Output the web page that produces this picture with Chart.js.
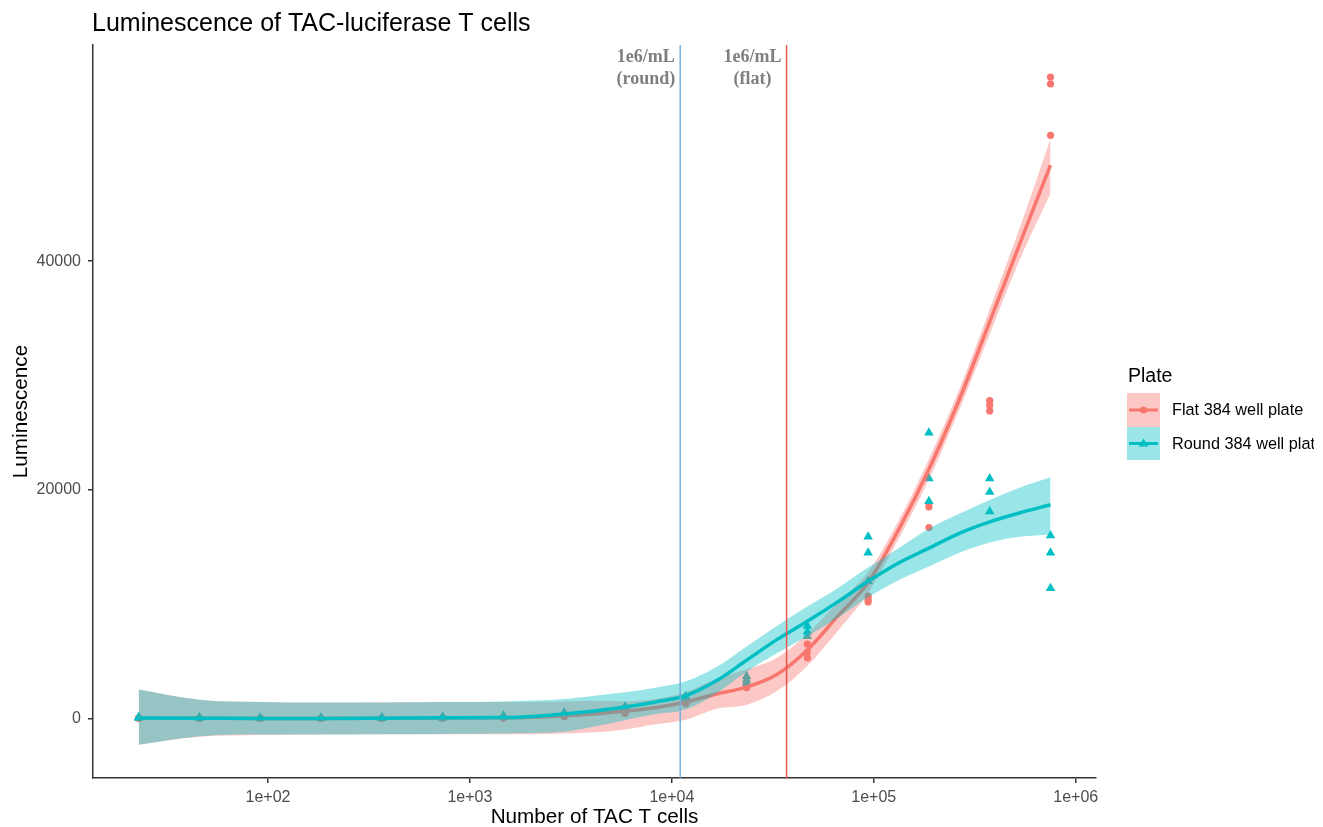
<!DOCTYPE html>
<html>
<head>
<meta charset="utf-8">
<script src="https://cdn.jsdelivr.net/npm/chart.js@4.4.1/dist/chart.umd.min.js"></script>
<style>
html,body{margin:0;padding:0;background:#fff;}
canvas{display:block;}
</style>
</head>
<body>
<canvas id="c" width="1323" height="827"></canvas>
<script>
// ---- data ----
const cellCounts = [22.9, 45.8, 91.6, 183.1, 366.2, 732.4, 1464.8, 2929.7, 5859.4, 11718.8, 23437.5, 46875, 93750, 187500, 375000, 750000];
const flatRep1  = [60, 40, 30, 20, 30, 50, 80, 250, 600, 1500, 3100, 6500, 10700, 18800, 27800, 56100];
const flatRep2  = [40, 20, 10, 10, 20, 40, 60, 200, 500, 1400, 2900, 5800, 10400, 18500, 27400, 55500];
const flatRep3  = [20, 10, 0, 0, 10, 30, 50, 150, 450, 1300, 2700, 5300, 10200, 16700, 26900, 51000];
const roundRep1 = [120, 80, 60, 60, 90, 130, 260, 500, 1050, 1950, 3700, 8100, 15900, 25000, 21000, 16000];
const roundRep2 = [80, 60, 40, 40, 60, 100, 220, 450, 950, 1800, 3400, 7600, 14500, 21000, 19800, 14500];
const roundRep3 = [40, 30, 20, 20, 40, 70, 180, 400, 850, 1650, 3100, 7200, 12000, 19000, 18100, 11400];

// loess fits and confidence bands
const fitX     = [22.9, 45.8, 91.6, 183, 366, 732, 1465, 2930, 4140, 5859, 8290, 11719, 16600, 23437, 33100, 46875, 66300, 93750, 132600, 187500, 265200, 375000, 530300, 750000];
const roundFit = [50, 30, 10, 0, 20, 60, 80, 400, 650, 1000, 1450, 2000, 3300, 5100, 6900, 8500, 10200, 12000, 13600, 14900, 16200, 17200, 18000, 18700];
const roundLo  = [-2300, -1550, -1400, -1400, -1380, -1350, -1300, -1150, -700, -150, 400, 800, 2200, 4100, 5700, 7200, 8800, 10600, 12100, 13300, 14500, 15400, 15900, 16100];
const roundHi  = [2550, 1650, 1450, 1400, 1400, 1450, 1500, 1700, 2000, 2300, 2700, 3250, 4500, 6300, 8100, 9800, 11400, 13200, 14900, 16600, 17900, 19100, 20200, 21100];
const flatFit  = [50, 30, 10, 0, 20, 50, 60, 250, 400, 650, 950, 1450, 2150, 2750, 3850, 6000, 8950, 11900, 16500, 21800, 27900, 34700, 41600, 48400];
const flatLo   = [-2300, -1600, -1450, -1400, -1380, -1380, -1380, -1300, -1200, -950, -500, -100, 850, 1200, 2400, 4600, 7650, 11000, 15700, 20900, 27000, 33600, 40200, 45900];
const flatHi   = [2550, 1650, 1450, 1400, 1420, 1450, 1450, 1500, 1550, 1500, 1700, 2300, 3450, 4300, 5300, 7400, 10150, 12800, 17300, 22700, 28800, 35800, 43000, 50700];

// reference lines (1e6/mL densities)
const vlineRound = 11000;
const vlineFlat = 37000;

// axes
const xMin = 13.6, xMax = 1260000;
const yMin = -5200, yMax = 58900;
const xTickValues = [1e2, 1e3, 1e4, 1e5, 1e6];
const yTickValues = [0, 20000, 40000];

const seriesNames = ['Flat 384 well plate', 'Round 384 well plate'];
const RED = '#F8766D', TEAL = '#00BFC4';

const pts = (xs, ys) => xs.map((x, i) => ({x, y: ys[i]}));
const reps = (xs, arrs) => arrs.flatMap(a => pts(xs, a));

const hidden = {borderWidth: 0, pointRadius: 0, showLine: true};

const datasets = [
  {data: [{x: vlineFlat, y: yMin}, {x: vlineFlat, y: yMax}], borderColor: '#E8574C', borderWidth: 1.5, pointRadius: 0},
  {data: [{x: vlineRound, y: yMin}, {x: vlineRound, y: yMax}], borderColor: '#74B0DA', borderWidth: 1.5, pointRadius: 0},
  {data: pts(fitX, roundFit), borderColor: TEAL, borderWidth: 3.5, pointRadius: 0, cubicInterpolationMode: 'monotone'},
  Object.assign({data: pts(fitX, roundHi), fill: '+1', backgroundColor: 'rgba(0,191,196,0.4)', cubicInterpolationMode: 'monotone'}, hidden),
  Object.assign({data: pts(fitX, roundLo), fill: false, cubicInterpolationMode: 'monotone'}, hidden),
  {data: pts(fitX, flatFit), borderColor: RED, borderWidth: 3.5, pointRadius: 0, cubicInterpolationMode: 'monotone'},
  Object.assign({data: pts(fitX, flatHi), fill: '+1', backgroundColor: 'rgba(248,118,109,0.4)', cubicInterpolationMode: 'monotone'}, hidden),
  Object.assign({data: pts(fitX, flatLo), fill: false, cubicInterpolationMode: 'monotone'}, hidden),
  {data: reps(cellCounts, [roundRep1, roundRep2, roundRep3]), showLine: false, pointStyle: 'triangle', pointRadius: 5.5, pointBackgroundColor: TEAL, pointBorderWidth: 0, borderColor: TEAL},
  {data: reps(cellCounts, [flatRep1, flatRep2, flatRep3]), showLine: false, pointStyle: 'circle', pointRadius: 3.6, pointBackgroundColor: RED, pointBorderWidth: 0, borderColor: RED}
];

const SANS = '"Liberation Sans", Arial, Helvetica, sans-serif';
const SERIF = '"Liberation Serif", "Times New Roman", serif';

const decor = {
  id: 'decor',
  afterDraw(chart) {
    const ctx = chart.ctx, a = chart.chartArea, xs = chart.scales.x;
    ctx.save();
    // title
    ctx.fillStyle = '#000';
    ctx.font = '25px ' + SANS;
    ctx.textAlign = 'left'; ctx.textBaseline = 'alphabetic';
    ctx.fillText('Luminescence of TAC-luciferase T cells', 92, 31);
    // axis titles
    ctx.font = '20.7px ' + SANS;
    ctx.textAlign = 'center';
    ctx.fillText('Number of TAC T cells', (a.left + a.right) / 2, 823);
    ctx.save();
    ctx.translate(27, (a.top + a.bottom) / 2);
    ctx.rotate(-Math.PI / 2);
    ctx.fillText('Luminescence', 0, 0);
    ctx.restore();
    // annotations
    ctx.font = 'bold 18px ' + SERIF;
    ctx.fillStyle = '#7f7f7f';
    const ann = [[vlineRound, ['1e6/mL', '(round)']], [vlineFlat, ['1e6/mL', '(flat)']]];
    ann.forEach(([v, lines]) => {
      const px = xs.getPixelForValue(v);
      const w = Math.max(...lines.map(l => ctx.measureText(l).width));
      const cx = px - 5 - w / 2;
      ctx.fillText(lines[0], cx, 62);
      ctx.fillText(lines[1], cx, 84);
    });
    // legend (the reference image is cut at its right edge)
    ctx.beginPath(); ctx.rect(1100, 340, 214, 140); ctx.clip();
    ctx.fillStyle = '#000';
    ctx.textAlign = 'left';
    ctx.font = '19.5px ' + SANS;
    ctx.fillText('Plate', 1128, 382);
    const keys = [
      {y: 393, h: 34, fill: 'rgba(248,118,109,0.4)', col: RED, shape: 'circle', label: seriesNames[0]},
      {y: 427, h: 33, fill: 'rgba(0,191,196,0.4)', col: TEAL, shape: 'triangle', label: seriesNames[1]}
    ];
    ctx.font = '16.3px ' + SANS;
    keys.forEach(k => {
      ctx.fillStyle = k.fill;
      ctx.fillRect(1127, k.y, 33, k.h);
      const cy = k.y + k.h / 2, cx = 1143.5;
      ctx.strokeStyle = k.col; ctx.lineWidth = 3;
      ctx.beginPath(); ctx.moveTo(1129, cy); ctx.lineTo(1158, cy); ctx.stroke();
      ctx.fillStyle = k.col;
      ctx.beginPath();
      if (k.shape === 'circle') { ctx.arc(cx, cy, 3.6, 0, Math.PI * 2); }
      else { ctx.moveTo(cx, cy - 5); ctx.lineTo(cx + 4.8, cy + 3); ctx.lineTo(cx - 4.8, cy + 3); ctx.closePath(); }
      ctx.fill();
      ctx.fillStyle = '#000';
      ctx.textBaseline = 'middle';
      ctx.fillText(k.label, 1172, cy + 1);
      ctx.textBaseline = 'alphabetic';
    });
    ctx.restore();
  }
};

new Chart(document.getElementById('c'), {
  type: 'line',
  data: {datasets},
  plugins: [decor],
  options: {
    responsive: false,
    animation: false,
    events: [],
    parsing: true,
    layout: {padding: {top: 45, right: 227, left: 0, bottom: 0}},
    plugins: {legend: {display: false}, title: {display: false}, tooltip: {enabled: false}},
    scales: {
      x: {
        type: 'logarithmic', min: xMin, max: xMax,
        afterBuildTicks: s => { s.ticks = xTickValues.map(v => ({value: v})); },
        afterFit: s => { s.height = 49; },
        ticks: {
          autoSkip: false, maxRotation: 0, padding: 5,
          color: '#4d4d4d', font: {family: SANS, size: 16},
          callback: v => '1e+' + String(Math.round(Math.log10(v))).padStart(2, '0')
        },
        grid: {display: true, drawOnChartArea: false, drawTicks: true, tickLength: 5, color: '#333', lineWidth: 1.5},
        border: {display: true, color: '#333', width: 1.5}
      },
      y: {
        type: 'linear', min: yMin, max: yMax,
        afterBuildTicks: s => { s.ticks = yTickValues.map(v => ({value: v})); },
        afterFit: s => { s.width = 93; },
        ticks: {padding: 7, color: '#4d4d4d', font: {family: SANS, size: 16}, callback: v => String(v)},
        grid: {display: true, drawOnChartArea: false, drawTicks: true, tickLength: 5, color: '#333', lineWidth: 1.5},
        border: {display: true, color: '#333', width: 1.5}
      }
    }
  }
});
</script>
</body>
</html>
